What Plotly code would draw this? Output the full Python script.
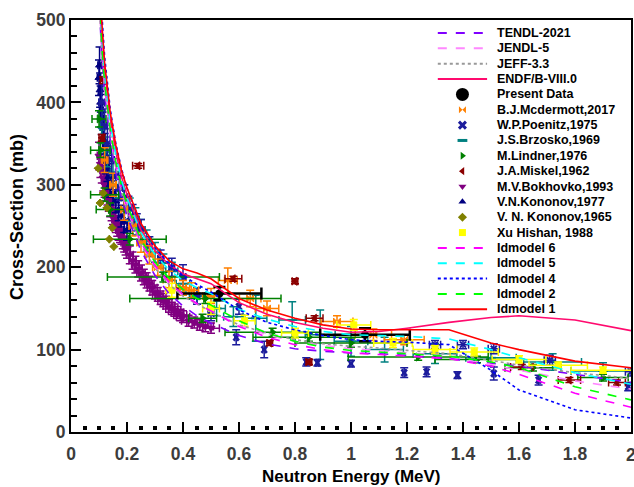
import plotly.graph_objects as go

# ---------------- data ----------------
# Evaluated / model curves (energy grid in MeV, cross-section in mb)
E_curve = [0.09, 0.10, 0.11, 0.12, 0.14, 0.16, 0.18, 0.20, 0.25, 0.30, 0.35, 0.40, 0.45,
           0.50, 0.60, 0.70, 0.80, 0.90, 1.00, 1.10, 1.20, 1.35, 1.50, 1.60, 1.80, 2.00]
tendl_2021 = [600, 520, 455, 410, 355, 315, 285, 262, 220, 190, 168, 153, 141, 132, 117, 107,
              101, 98, 96, 95, 93, 89, 84, 80, 70, 60]
jendl_5 = [610, 528, 462, 418, 362, 322, 292, 270, 228, 200, 180, 165, 155, 147, 130, 118,
           110, 105, 101, 99, 96, 92, 82, 75, 62, 52]
jeff_33 = [608, 526, 460, 416, 361, 321, 291, 269, 227, 199, 179, 165, 155, 146, 130, 120,
           112, 107, 104, 102, 99, 95, 87, 81, 72, 65]
endf_b8 = [640, 556, 490, 440, 380, 340, 310, 288, 245, 220, 203, 192, 186, 180, 157, 143,
           133, 126, 121, 122, 126, 133, 139, 141, 136, 123]
idmodel6 = [612, 532, 466, 422, 366, 326, 296, 273, 230, 202, 182, 167, 156, 147, 128, 115,
            106, 100, 96, 94, 92, 89, 80, 70, 47, 30]
idmodel5 = [630, 548, 482, 434, 376, 336, 306, 284, 242, 215, 197, 184, 175, 168, 149, 137,
            128, 122, 118, 117, 116, 113, 100, 90, 72, 58]
idmodel4 = [665, 578, 508, 456, 392, 350, 320, 296, 252, 224, 204, 190, 179, 170, 148, 133,
            124, 117, 112, 110, 109, 106, 75, 51, 27, 17]
idmodel2 = [615, 534, 468, 424, 368, 328, 298, 276, 233, 206, 187, 173, 162, 154, 135, 120,
            110, 103, 99, 97, 95, 92, 85, 78, 55, 39]
idmodel1 = [650, 565, 497, 448, 388, 348, 318, 296, 253, 226, 208, 198, 193, 186, 162, 148,
            138, 130, 125, 124, 124, 124, 108, 100, 86, 78]

# Present data
present_E = [0.53, 1.05]
present_xs = [168, 118]
present_dE = [0.15, 0.16]
present_dxs = [8, 8]

# B.J.Mcdermott, 2017
mcd_E = [0.12, 0.15, 0.19, 0.22, 0.25, 0.28, 0.31, 0.35, 0.40, 0.43, 0.50, 0.56, 0.64, 0.70,
         0.95, 1.08, 1.19]
mcd_xs = [330, 300, 270, 250, 230, 215, 200, 185, 175, 172, 165, 184, 162, 150, 134, 118, 112]
mcd_dxs = [15, 14, 13, 12, 12, 11, 10, 10, 9, 9, 9, 15, 10, 9, 7, 7, 6]

# W.P.Poenitz, 1975
poe_E = [0.11, 0.12, 0.13, 0.145, 0.16, 0.175, 0.19, 0.205, 0.22, 0.235, 0.25, 0.28, 0.32,
         0.36, 0.40, 0.45, 0.50, 0.59, 0.60, 0.69, 0.84, 0.88, 1.00, 1.19, 1.27, 1.38, 1.51,
         1.67, 1.99, 1.30, 1.40, 1.51, 1.71, 2.00]
poe_xs = [400, 372, 350, 330, 310, 296, 285, 272, 262, 252, 245, 225, 210, 200, 188, 165, 144,
          115, 152, 100, 85, 84, 83, 72, 73, 69, 71, 63, 55, 106, 106, 101, 87, 73]
poe_dxs = [22, 20, 18, 17, 16, 15, 15, 14, 14, 13, 13, 12, 11, 11, 15, 10, 9, 9, 9, 10, 5, 4,
           4, 6, 6, 4, 8, 6, 5, 5, 5, 6, 6, 5]
poe_dE = [0.01, 0.01, 0.01, 0.01, 0.01, 0.01, 0.01, 0.01, 0.01, 0.01, 0.01, 0.01, 0.01, 0.01,
          0.01, 0.01, 0.01, 0.005, 0.005, 0.005, 0.005, 0.005, 0.005, 0.005, 0.005, 0.005,
          0.005, 0.005, 0.005, 0.02, 0.02, 0.02, 0.02, 0.02]

# J.S.Brzosko, 1969
brz_E = [0.11, 0.13, 0.15, 0.17, 0.19, 0.21, 0.23, 0.25, 0.27, 0.30, 0.33, 0.36, 0.40, 0.45,
         0.52, 0.58, 0.66, 0.79, 0.89, 1.00, 1.12, 1.30, 1.50, 1.72, 1.90]
brz_xs = [370, 340, 315, 300, 285, 270, 258, 245, 232, 218, 205, 195, 180, 165, 150, 140,
          138, 136, 118, 110, 100, 95, 90, 85, 74]
brz_dxs = [20, 18, 17, 16, 15, 14, 14, 13, 13, 12, 11, 11, 10, 10, 9, 12, 28, 22, 30, 18,
           15, 12, 10, 10, 10]

# M.Lindner, 1976
lin_E = [0.10, 0.105, 0.12, 0.14, 0.21, 0.33, 0.48, 0.47, 0.72, 0.85, 1.00, 1.24, 1.45,
         1.65, 1.90]
lin_xs = [380, 342, 288, 270, 234, 188, 162, 138, 121, 115, 108, 91, 88, 78, 66]
lin_dE = [0.025, 0.035, 0.05, 0.05, 0.13, 0.20, 0.27, 0.05, 0.17, 0.20, 0.20, 0.25, 0.15,
          0.10, 0.09]
lin_dxs = [10, 9, 8, 8, 7, 6, 6, 5, 5, 5, 5, 4, 4, 4, 4]

# J.A.Miskel, 1962
mis_E = [0.11, 0.115, 0.24, 0.58, 0.80, 0.71, 0.85, 0.87, 1.61, 1.78, 1.95]
mis_xs = [357, 427, 323, 186, 183, 108, 85, 138, 79, 63, 60]
mis_dE = [0.01, 0.01, 0.02, 0.03, 0.01, 0.01, 0.01, 0.03, 0.04, 0.04, 0.03]
mis_dxs = [4, 4, 3, 3, 3, 3, 3, 3, 3, 3, 3]

# M.V.Bokhovko, 1993
bok_E = [0.10, 0.105, 0.11, 0.115, 0.12, 0.125, 0.13, 0.135, 0.14, 0.145, 0.15, 0.155, 0.16,
         0.165, 0.17, 0.175, 0.18, 0.185, 0.19, 0.195, 0.20, 0.21, 0.22, 0.23, 0.24, 0.25,
         0.26, 0.27, 0.28, 0.29, 0.30, 0.31, 0.32, 0.33, 0.34, 0.35, 0.36, 0.37, 0.38, 0.39,
         0.40, 0.42, 0.44, 0.46, 0.48, 0.50]
bok_xs = [335, 325, 318, 308, 300, 295, 290, 282, 275, 270, 265, 258, 255, 250, 245, 242,
          240, 234, 230, 226, 222, 215, 208, 203, 198, 193, 188, 184, 180, 175, 170, 167,
          163, 160, 157, 153, 150, 148, 145, 142, 140, 135, 133, 130, 128, 126]

# V.N.Kononov, 1977
k77_E = [0.100, 0.102, 0.104, 0.106, 0.108, 0.110, 0.113, 0.116, 0.120, 0.125, 0.130, 0.135,
         0.140, 0.150, 0.160, 0.170, 0.180, 0.190, 0.200]
k77_xs = [430, 445, 415, 400, 390, 380, 370, 355, 345, 330, 320, 310, 300, 290, 280, 270,
          262, 255, 245]

# V. N. Kononov, 1965
k65_E = [0.097, 0.104, 0.115, 0.128, 0.137, 0.147, 0.153]
k65_xs = [320, 278, 290, 272, 234, 248, 225]

# Xu Hishan, 1988
xu_E = [0.36, 0.50, 0.62, 0.80, 1.01, 1.15, 1.30, 1.44, 1.60, 1.74, 1.90]
xu_xs = [172, 150, 135, 120, 130, 108, 100, 97, 88, 81, 75]

# axis ticks
x_ticks = [0, 0.2, 0.4, 0.6, 0.8, 1, 1.2, 1.4, 1.6, 1.8, 2]
x_tick_text = ["0", "0.2", "0.4", "0.6", "0.8", "1", "1.2", "1.4", "1.6", "1.8", ""]
x_last_label = "2"
# minor tick positions on the energy axis (every 0.05 MeV between the 0.2 MeV majors)
x_minor_ticks = [round(0.05 * k, 2) for k in range(41) if k % 4 != 0]

# ---------------- figure ----------------
fig = go.Figure()

FONT = "Liberation Sans, Arial, sans-serif"


def pct(vals, p):
    return [v * p for v in vals]


def exp_trace(name, E, xs, color, symbol, size, dxs=None, dE=None, lw=1):
    ey = dict(type="data", array=dxs if dxs is not None else pct(xs, 0.05),
              color=color, thickness=1.5, width=4, visible=True)
    ex = dict(type="data", array=dE if dE is not None else pct(E, 0.06),
              color=color, thickness=1.5, width=4, visible=True)
    return go.Scatter(x=E, y=xs, mode="markers", name=name, showlegend=False,
                      marker=dict(color=color, symbol=symbol, size=size,
                                  line=dict(color=color, width=lw)),
                      error_y=ey, error_x=ex)


exp_series = [
    ("M.V.Bokhovko,1993", bok_E, bok_xs, "#800080", "triangle-down", 7, None, None),
    ("V.N.Kononov,1977", k77_E, k77_xs, "#000080", "triangle-up", 7, None, None),
    ("J.S.Brzosko,1969", brz_E, brz_xs, "#008080", "line-ew", 7, brz_dxs, None),
    ("W.P.Poenitz,1975", poe_E, poe_xs, "#1c1c9c", "x-thin", 6, poe_dxs, poe_dE),
    ("B.J.Mcdermott,2017", mcd_E, mcd_xs, "#ff8000", "bowtie", 7, mcd_dxs, None),
    ("M.Lindner,1976", lin_E, lin_xs, "#008000", "triangle-right", 7, lin_dxs, lin_dE),
    ("J.A.Miskel,1962", mis_E, mis_xs, "#8b0000", "triangle-left", 7, mis_dxs, mis_dE),
    ("V. N. Kononov,1965", k65_E, k65_xs, "#808000", "diamond", 6, pct(k65_xs, 0.0), pct(k65_E, 0.0)),
    ("Xu Hishan, 1988", xu_E, xu_xs, "#ffff00", "square", 6, None, None),
]
for name, E, xs, c, sym, sz, dxs, dE in exp_series:
    fig.add_trace(exp_trace(name, E, xs, c, sym, sz, dxs, dE, lw=2 if sym in ("line-ew", "x-thin") else 1))

fig.add_trace(go.Scatter(x=present_E, y=present_xs, mode="markers", name="Present Data",
                         showlegend=False,
                         marker=dict(color="black", symbol="circle", size=8),
                         error_x=dict(type="data", array=present_dE, color="black",
                                      thickness=2.5, width=6),
                         error_y=dict(type="data", array=present_dxs, color="black",
                                      thickness=2.5, width=6)))

curves = [
    ("TENDL-2021", tendl_2021, "#8000ff", "dash", 1.6),
    ("JENDL-5", jendl_5, "#ff88ff", "dash", 1.6),
    ("JEFF-3.3", jeff_33, "#999999", "dot", 1.6),
    ("ENDF/B-VIII.0", endf_b8, "#ff0a6e", "solid", 1.6),
    ("Idmodel 6", idmodel6, "#ff00ff", "dash", 1.6),
    ("Idmodel 5", idmodel5, "#00ffff", "dash", 1.6),
    ("Idmodel 4", idmodel4, "#0000ff", "dot", 1.6),
    ("Idmodel 2", idmodel2, "#00ff00", "dash", 1.6),
    ("Idmodel 1", idmodel1, "#ff0000", "solid", 1.6),
]
for name, ys, c, dash, w in curves:
    fig.add_trace(go.Scatter(x=E_curve, y=ys, mode="lines", name=name, showlegend=False,
                             line=dict(color=c, dash=dash, width=w)))

# ---------------- hand-built compact legend ----------------
legend_items = [
    ("TENDL-2021", "line", "#8000ff", "dash"),
    ("JENDL-5", "line", "#ff88ff", "dash"),
    ("JEFF-3.3", "line", "#999999", "dot"),
    ("ENDF/B-VIII.0", "line", "#ff0a6e", "solid"),
    ("Present Data", "marker", "black", "circle"),
    ("B.J.Mcdermott,2017", "marker", "#ff8000", "bowtie"),
    ("W.P.Poenitz,1975", "marker", "#1c1c9c", "x-thin"),
    ("J.S.Brzosko,1969", "marker", "#008080", "line-ew"),
    ("M.Lindner,1976", "marker", "#008000", "triangle-right"),
    ("J.A.Miskel,1962", "marker", "#8b0000", "triangle-left"),
    ("M.V.Bokhovko,1993", "marker", "#800080", "triangle-down"),
    ("V.N.Kononov,1977", "marker", "#000080", "triangle-up"),
    ("V. N. Kononov,1965", "marker", "#808000", "diamond"),
    ("Xu Hishan, 1988", "marker", "#ffff00", "square"),
    ("Idmodel 6", "line", "#ff00ff", "dash"),
    ("Idmodel 5", "line", "#00ffff", "dash"),
    ("Idmodel 4", "line", "#0000ff", "dot"),
    ("Idmodel 2", "line", "#00ff00", "dash"),
    ("Idmodel 1", "line", "#ff0000", "solid"),
]
# plot area spans 71..631 x 20..432 in the page
PLOT_TOP, PLOT_H = 20, 412
row0, row_step = 33, 15.35
line_x0, line_x1, mark_x, text_x = 0.655, 0.743, 0.699, 0.758
annotations = []
for i, (label, kind, color, style) in enumerate(legend_items):
    yp = 1 - (row0 - PLOT_TOP + row_step * i) / PLOT_H
    if kind == "line":
        fig.add_trace(go.Scatter(x=[line_x0, line_x1], y=[yp, yp], mode="lines",
                                 xaxis="x2", yaxis="y2", showlegend=False, hoverinfo="skip",
                                 line=dict(color=color, dash=style, width=2)))
    else:
        size = 13 if style == "circle" else 7
        fig.add_trace(go.Scatter(x=[mark_x], y=[yp], mode="markers",
                                 xaxis="x2", yaxis="y2", showlegend=False, hoverinfo="skip",
                                 marker=dict(color=color, symbol=style, size=size,
                                             line=dict(color=color,
                                                       width=3 if style in ("line-ew", "x-thin") else 0))))
    annotations.append(dict(x=text_x, y=yp, xref="x2", yref="y2", text=label,
                            showarrow=False, xanchor="left", yanchor="middle",
                            font=dict(family=FONT, size=12.5, color="black", weight="bold")))

# axis titles as annotations for exact placement
annotations.append(dict(x=0.5, y=-44 / PLOT_H, xref="paper", yref="paper",
                        text="Neutron Energy (MeV)", showarrow=False,
                        xanchor="center", yanchor="middle",
                        font=dict(family=FONT, size=17, color="black", weight="bold")))
annotations.append(dict(x=-54 / 560, y=0.522, xref="paper", yref="paper",
                        text="Cross-Section (mb)", showarrow=False, textangle=-90,
                        xanchor="center", yanchor="middle",
                        font=dict(family=FONT, size=18, color="black", weight="bold")))
# last x tick label (sits on the right edge of the figure)
annotations.append(dict(x=x_ticks[-1], y=0, xref="x", yref="paper", yshift=-23,
                        text=x_last_label, showarrow=False, xanchor="center",
                        yanchor="middle",
                        font=dict(family=FONT, size=17.5, color="#3c3c3c", weight="bold")))

# square minor tick marks just inside the energy axis
shapes = [dict(type="rect", xref="x", yref="y", xsizemode="pixel", ysizemode="pixel",
               xanchor=v, yanchor=0, x0=-2, x1=2, y0=2, y1=6,
               fillcolor="black", line=dict(width=0), layer="above")
          for v in x_minor_ticks]

fig.update_layout(
    width=634, height=487,
    margin=dict(l=71, r=3, t=20, b=55, autoexpand=False),
    paper_bgcolor="white", plot_bgcolor="white",
    showlegend=False,
    annotations=annotations,
    shapes=shapes,
    xaxis=dict(range=[0, 2], tickvals=x_ticks, ticktext=x_tick_text, automargin=False,
               ticks="inside", ticklen=10, tickwidth=2, tickcolor="black",
               ticklabelstandoff=5,
               showline=True, linecolor="black", linewidth=2, mirror=True,
               showgrid=False, zeroline=False,
               tickfont=dict(family=FONT, size=17.5, color="#3c3c3c", weight="bold")),
    yaxis=dict(range=[0, 500], tick0=0, dtick=100, automargin=False,
               ticks="inside", ticklen=10, tickwidth=2, tickcolor="black",
               minor=dict(tick0=0, dtick=20, ticks="inside", ticklen=6, tickwidth=2,
                          tickcolor="black"),
               showline=True, linecolor="black", linewidth=2, mirror=True,
               showgrid=False, zeroline=False,
               tickfont=dict(family=FONT, size=17.5, color="#3c3c3c", weight="bold")),
    xaxis2=dict(range=[0, 1], overlaying="x", anchor="y2", visible=False, fixedrange=True),
    yaxis2=dict(range=[0, 1], overlaying="y", anchor="x2", visible=False, fixedrange=True),
)

# remove the default page margin so the 634x487 figure fills the window exactly
page_fix = "document.body.style.margin='0';document.body.style.overflow='hidden';"
fig.write_html("out.html", post_script=page_fix, config={"displayModeBar": False})
